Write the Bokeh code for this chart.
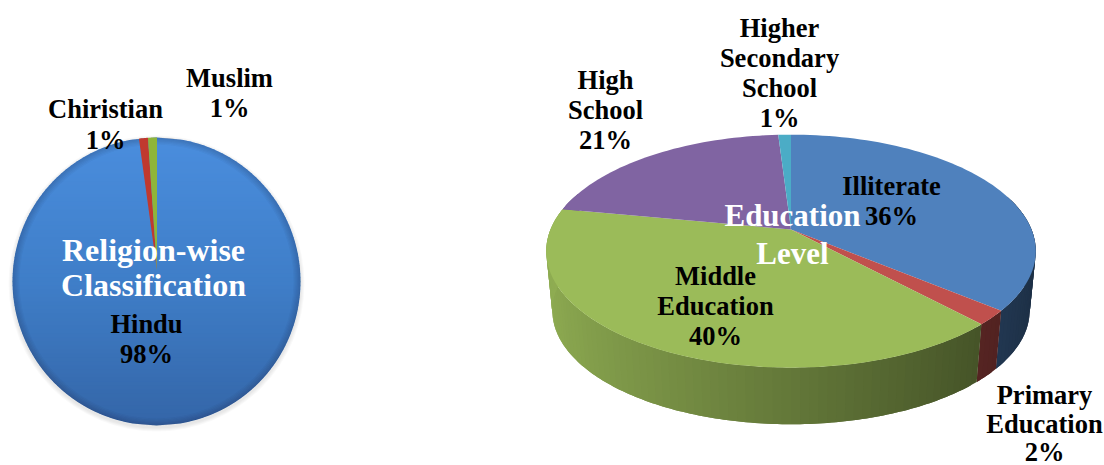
import math
from bokeh.plotting import figure
from bokeh.models import Range1d
from bokeh.core.properties import value
from bokeh.embed import file_html
from bokeh.resources import INLINE

# ---- data ----
religion_names = ["Hindu", "Chiristian", "Muslim"]
religion_values = [98, 1, 1]
religion_colors = ["#3f7ec8", "#c0392f", "#8fb53a"]
education_names = ["Illiterate", "Primary Education", "Middle Education", "High School", "Higher Secondary School"]
education_values = [36, 2, 40, 21, 1]
education_colors = ["#4f81bd", "#c0504d", "#9bbb59", "#8064a2", "#4bacc6"]

W, H = 1104, 465
p = figure(width=W, height=H, output_backend="svg", toolbar_location=None,
           x_range=Range1d(0, W), y_range=Range1d(H, 0), min_border=0,
           outline_line_color=None, background_fill_color="white", border_fill_color="white")
p.axis.visible = False
p.grid.visible = False


def mix(c1, c2, t):
    a = [int(c1[i:i + 2], 16) for i in (1, 3, 5)]
    b = [int(c2[i:i + 2], 16) for i in (1, 3, 5)]
    return "#%02x%02x%02x" % tuple(round(a[i] + (b[i] - a[i]) * t) for i in range(3))


def scale(c, f):
    return "#%02x%02x%02x" % tuple(round(int(c[i:i + 2], 16) * f) for i in (1, 3, 5))


# ---- left pie ----
cx, cy, r = 156, 281, 144
# soft outer shadow
for i in range(4):
    p.annulus([cx], [cy + 2], inner_radius=r - 2, outer_radius=r + 4 - i, fill_color="#000000",
              fill_alpha=0.025, line_color=None)
# body gradient strips
n = 72
xs, ys, cols = [], [], []
for i in range(n):
    y0 = -r + 2 * r * i / n
    y1 = -r + 2 * r * (i + 1) / n + 0.6
    y1c = min(y1, r)
    w0 = math.sqrt(max(r * r - y0 * y0, 0))
    w1 = math.sqrt(max(r * r - y1c * y1c, 0))
    wm = math.sqrt(max(r * r - ((y0 + y1c) / 2) ** 2, 0))
    xs.append([cx - w0, cx - wm, cx - w1, cx + w1, cx + wm, cx + w0])
    ys.append([cy + y0, cy + (y0 + y1c) / 2, cy + y1c, cy + y1c, cy + (y0 + y1c) / 2, cy + y0])
    t = i / (n - 1)
    cols.append(mix("#4a8ddd", "#3f7ec8", t * 2) if t < .5 else mix("#3f7ec8", "#3466a8", (t - .5) * 2))
p.patches(xs, ys, fill_color=cols, line_color=None)
# bevel rings
for i in range(6):
    p.annulus([cx], [cy], inner_radius=r - 7 + i * 1.2, outer_radius=r, fill_color="#10243f",
              fill_alpha=0.035, line_color=None)

total = sum(religion_values)
start = religion_values[0] / total
apex_y = 270
for val, col in zip(religion_values[1:], religion_colors[1:]):
    end = start + val / total
    px, py = [cx + 0.5], [apex_y]
    for j in range(9):
        a = 2 * math.pi * (start + (end - start) * j / 8)
        px.append(cx + 0.5 + r * math.sin(a))
        py.append(cy - r * math.cos(a))
    p.patch(px, py, fill_color=col, line_color=None)
    start = end

# ---- right pie: perspective-projected disc ----
ax, ay, A, B, k = 790.5, 229, 112.5, 240.5, 0.186
depth, shrink = 60.0, 0.975


def top(t):
    a = 2 * math.pi * t
    u, v = math.sin(a), math.cos(a)
    return ax + B * u / (1 + k * v), ay - A * v / (1 + k * v)


def bottom(t):
    x, y = top(t)
    return ax + shrink * (x - ax), ay + depth + shrink * (y - ay)


etotal = sum(education_values)
sx, sy, sc = [], [], []
start = 0.0
faces = []
for val, col in zip(education_values, education_colors):
    frac = val / etotal
    end = start + frac
    steps = max(int(frac * 200), 3)
    fx, fy = [ax], [ay]
    for j in range(steps + 1):
        x, y = top(start + frac * j / steps)
        fx.append(x)
        fy.append(y)
    faces.append((fx, fy, col))
    for j in range(steps):
        t0 = start + frac * j / steps
        t1 = start + frac * min(j + 2, steps) / steps
        tm = start + frac * (j + 0.5) / steps
        if math.cos(2 * math.pi * tm) < 0.3:
            tt = [t0 + (t1 - t0) * q / 4 for q in range(5)]
            top_pts = [top(q) for q in tt]
            bot_pts = [bottom(q) for q in reversed(tt)]
            sx.append([q[0] for q in top_pts + bot_pts])
            sy.append([q[1] for q in top_pts + bot_pts])
            u = math.sin(2 * math.pi * tm)
            sc.append(scale(col, 0.64 - 0.28 * u))
    start = end
p.patches(sx, sy, fill_color=sc, line_color=None)
for fx, fy, col in faces:
    p.patch(fx, fy, fill_color=col, line_color=None)

# ---- labels ----
dark_lines = [
    ("Muslim", 229, 77), ("1%", 229, 107),
    ("Chiristian", 105, 108), ("1%", 105, 139),
    ("Hindu", 146, 323), ("98%", 146, 353),
    ("Higher", 779, 27), ("Secondary", 779, 57), ("School", 779, 87), ("1%", 779, 117),
    ("High", 605, 79), ("School", 605, 109), ("21%", 605, 139),
    ("Illiterate", 891, 185), ("36%", 891, 215),
    ("Middle", 715, 275), ("Education", 715, 305), ("40%", 715, 335),
    ("Primary", 1044, 394), ("Education", 1044, 423), ("2%", 1044, 451),
]
p.text([d[1] for d in dark_lines], [d[2] for d in dark_lines], text=[d[0] for d in dark_lines],
       text_font=value("Liberation Serif"), text_font_style="bold", text_font_size="26.5px",
       text_color="#000000", text_align="center", text_baseline="middle")
p.text([153, 153], [249, 284], text=["Religion-wise", "Classification"],
       text_font=value("Liberation Serif"), text_font_style="bold", text_font_size="32px",
       text_color="#ffffff", text_align="center", text_baseline="middle")
p.text([792, 792], [215, 253], text=["Education", "Level"],
       text_font=value("Liberation Serif"), text_font_style="bold", text_font_size="31px",
       text_color="#ffffff", text_align="center", text_baseline="middle")

open("out.html", "w").write(file_html(p, INLINE))
